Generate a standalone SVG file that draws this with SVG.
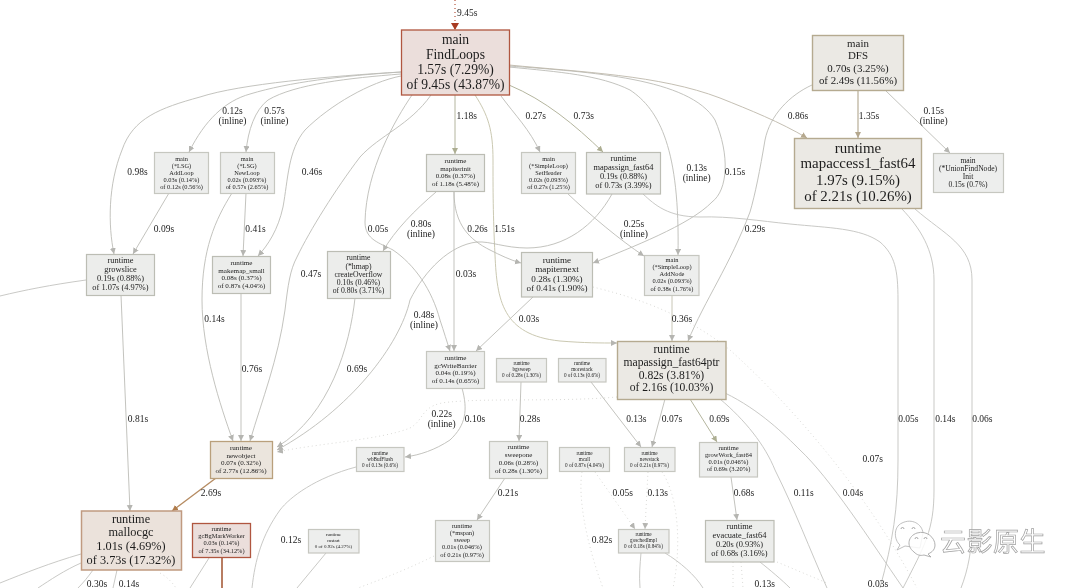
<svg xmlns="http://www.w3.org/2000/svg" width="1080" height="588" viewBox="0 0 1080 588">
<style>
text{font-family:"Liberation Serif","Times New Roman",serif;fill:#1c1c1c;text-anchor:middle}
.b{fill:#edeeed;stroke:#c6c7c0;stroke-width:1.2}
.g{fill:#ecedeb;stroke:#bcbdb4;stroke-width:1.2}
.w{fill:#ebe9e4;stroke:#b5aa90;stroke-width:1.4}
.o{fill:#ebe5dd;stroke:#b9a07c;stroke-width:1.3}
.r{fill:#ebe2db;stroke:#c09a80;stroke-width:1.5}
.m{fill:#ebdedb;stroke:#b0563f;stroke-width:1.3}
#connectors path{fill:none;stroke:#c3c3bf;stroke-width:.9}
#connectors .d{stroke:#d6d6d2;stroke-dasharray:1 3}
#edge-labels text{font-size:9.5px}
#connectors .n{stroke:#bcbcb7;marker-end:url(#ag)}
#connectors .t{stroke:#b7ad97;stroke-width:1.2;marker-end:url(#at)}
#connectors .u{stroke:#bdb8aa;marker-end:url(#at)}
#connectors .v{stroke:#b4b59e;stroke-width:1;marker-end:url(#av)}
#connectors .br{stroke:#b58a60;stroke-width:1.3;marker-end:url(#ab)}
#connectors .ad{marker-end:url(#ag)}
</style>
<defs>
<filter id="soft" filterUnits="userSpaceOnUse" x="0" y="0" width="1080" height="588"><feGaussianBlur stdDeviation="0.3"/></filter>
<marker id="ag" markerUnits="userSpaceOnUse" markerWidth="7" markerHeight="7" refX="6" refY="3" orient="auto"><path d="M0,0L6,3L0,6z" fill="#b5b5b1"/></marker>
<marker id="at" markerUnits="userSpaceOnUse" markerWidth="7" markerHeight="7" refX="6" refY="3" orient="auto"><path d="M0,0L6,3L0,6z" fill="#b5a88e"/></marker>
<marker id="av" markerUnits="userSpaceOnUse" markerWidth="7" markerHeight="7" refX="6" refY="3" orient="auto"><path d="M0,0L6,3L0,6z" fill="#adae92"/></marker>
<marker id="ab" markerUnits="userSpaceOnUse" markerWidth="7" markerHeight="7" refX="6" refY="3" orient="auto"><path d="M0,0L6,3L0,6z" fill="#b07c4c"/></marker>
<marker id="ar" markerUnits="userSpaceOnUse" markerWidth="8" markerHeight="9" refX="7" refY="4" orient="auto"><path d="M0,0L7,4L0,8z" fill="#a83a20"/></marker>
</defs>
<rect width="1080" height="588" fill="#fff"/>
<g filter="url(#soft)">
<g id="connectors">
<path d="M455,0V30" style="stroke:#b5533c;stroke-width:1.2;stroke-dasharray:1 3;marker-end:url(#ar)"/>
<path class="n" d="M401,72C330,76 240,84 200,97C160,108 133,118 122,150C108,185 108,225 114,254"/>
<path class="n" d="M401,72C340,76 290,82 250,94C225,101 205,120 189,152"/>
<path class="n" d="M401,74C350,78 295,84 268,100C255,110 248,130 246,152"/>
<path class="n" d="M401,76C370,82 330,105 305,130C288,150 288,180 283,207C278,230 268,245 258,256"/>
<path class="n" d="M431,95C410,125 380,135 360,157C335,190 310,230 297,257C290,270 288,285 285,310C278,360 262,400 250,441"/>
<path class="n" d="M412,95C395,120 366,170 365,222C365,240 380,243 393,250C415,265 432,290 440,320C444,332 447,342 450,351"/>
<path class="v" d="M455,95V154"/>
<path class="n" style="stroke:#c4c2a8" d="M475,95C488,115 493,130 493,160C493,190 493,215 495,255C497,300 502,335 560,341C585,343 600,343 617,343"/>
<path class="n" d="M501,96C515,115 530,130 540,152"/>
<path class="v" d="M509,85C545,100 575,125 603,152"/>
<path class="n" d="M509,67C560,72 600,75 630,90C660,110 680,150 678,255"/>
<path class="n" d="M509,66C590,72 690,78 715,120C730,155 728,190 712,202C690,225 630,248 593,263"/>
<path class="u" d="M509,65C580,72 660,75 720,98C750,110 780,122 807,138"/>
<path class="t" d="M858,90V138"/>
<path class="n" d="M885,90L950,153"/>
<path class="n" d="M812,85C790,95 770,115 765,140C760,170 755,195 750,212C730,265 705,300 688,341"/>
<path class="n" d="M567,193C590,215 620,240 644,256"/>
<path d="M643,194C655,205 668,217 700,217C730,216 760,221 790,224C830,228 860,228 880,242C895,255 898,270 898,300V460C898,510 893,540 880,588"/>
<path d="M902,209C920,228 934,250 934,280V490C934,530 925,545 903,588"/>
<path d="M915,209C945,235 972,245 972,280V525C972,550 968,570 961,588"/>
<path class="n" d="M169,193L133,254"/>
<path class="n" d="M246,193L243,256"/>
<path class="n" d="M232,193C215,220 202,250 202,300C202,350 220,405 233,441"/>
<path class="n" d="M241,293V441"/>
<path class="n" d="M121,295L130,511"/>
<path d="M86,280C50,285 25,290 0,296"/>
<path class="br" d="M216,478L172,511"/>
<path d="M81,554C50,563 25,573 0,583"/>
<path d="M81,563C65,570 50,580 38,588"/>
<path d="M93,570C88,577 83,583 78,588"/>
<path d="M117,570L113,588"/>
<path class="d" d="M160,573C167,577 172,582 176,588"/>
<path style="stroke:#a0522f;stroke-width:1.5" d="M222,558V588"/>
<path d="M209,558L190,588"/>
<path d="M356,467C315,478 290,497 280,510C262,535 255,560 252,588"/>
<path d="M326,553L297,588"/>
<path class="n" d="M462,388C468,410 466,425 450,440C435,450 420,455 405,457"/>
<path class="n" d="M436,192C415,210 395,230 383,251"/>
<path class="n" d="M454,192C454,225 470,240 490,250C500,255 510,260 521,263"/>
<path class="n" d="M454,192V351"/>
<path class="n" d="M533,297L476,351"/>
<path class="n" style="stroke:#c2c0ae" d="M672,295V341"/>
<path class="n" d="M612,194C595,225 565,248 527,248C505,248 490,241 477,242C450,245 425,270 410,300C400,345 350,410 277,450"/>
<path class="n" d="M355,298C350,345 330,415 277,447"/>
<path class="d" d="M593,287C625,295 680,310 730,350C780,395 860,480 917,588"/>
<path class="d ad" d="M617,397C560,402 490,398 450,402C420,404 425,420 410,428C380,440 320,443 277,452"/>
<path class="n" d="M521,382L519,441"/>
<path class="n" d="M591,382L641,447"/>
<path class="n" d="M665,399L652,447"/>
<path class="v" d="M690,399L717,442"/>
<path class="n" d="M731,477L737,520"/>
<path d="M720,399C745,420 765,445 775,470C795,510 810,550 827,588"/>
<path d="M725,393C760,410 785,435 800,450C830,478 870,540 903,588"/>
<path class="n" d="M505,478L477,520"/>
<path class="d" d="M434,556C410,568 385,578 358,588"/>
<path class="d ad" d="M595,472L635,529"/>
<path class="d" d="M582,472C578,495 585,540 603,588"/>
<path class="d ad" d="M648,472C647,490 646,510 645,529"/>
<path class="d" d="M662,472C678,495 682,545 673,588"/>
<path d="M641,553C640,565 639,575 640,588"/>
<path d="M665,553C680,562 695,575 703,588"/>
<path d="M760,562C770,570 782,580 790,588"/>
<path class="d" d="M733,562V588"/>
<path class="d" d="M741,562L743,588"/>
<path class="d" d="M777,562L827,583"/>
</g>
<g id="edge-labels">
<text x="457" y="16" style="text-anchor:start">9.45s</text>
<text x="137.500" y="175">0.98s</text>
<text x="232.500" y="114">0.12s</text><text x="232.500" y="124">(inline)</text>
<text x="274.500" y="114">0.57s</text><text x="274.500" y="124">(inline)</text>
<text x="312" y="175">0.46s</text>
<text x="164" y="232">0.09s</text>
<text x="255.500" y="232">0.41s</text>
<text x="311" y="277">0.47s</text>
<text x="214.500" y="322">0.14s</text>
<text x="252" y="372">0.76s</text>
<text x="357" y="372">0.69s</text>
<text x="138" y="422">0.81s</text>
<text x="211" y="496">2.69s</text>
<text x="291" y="543">0.12s</text>
<text x="97" y="586.500">0.30s</text>
<text x="129" y="586.500">0.14s</text>
<text x="466.700" y="119">1.18s</text>
<text x="535.700" y="119">0.27s</text>
<text x="583.700" y="119">0.73s</text>
<text x="696.700" y="171">0.13s</text><text x="696.700" y="181">(inline)</text>
<text x="378" y="232">0.05s</text>
<text x="421" y="227">0.80s</text><text x="421" y="237">(inline)</text>
<text x="477.500" y="232">0.26s</text>
<text x="504.500" y="232">1.51s</text>
<text x="634" y="227">0.25s</text><text x="634" y="237">(inline)</text>
<text x="466" y="277">0.03s</text>
<text x="798" y="119">0.86s</text>
<text x="869" y="119">1.35s</text>
<text x="933.700" y="114">0.15s</text><text x="933.700" y="124">(inline)</text>
<text x="735" y="175">0.15s</text>
<text x="755" y="232">0.29s</text>
<text x="424" y="318">0.48s</text><text x="424" y="328">(inline)</text>
<text x="529" y="322">0.03s</text>
<text x="682" y="322">0.36s</text>
<text x="441.700" y="417">0.22s</text><text x="441.700" y="427">(inline)</text>
<text x="475" y="422">0.10s</text>
<text x="530" y="422">0.28s</text>
<text x="508" y="496">0.21s</text>
<text x="636.300" y="422">0.13s</text>
<text x="672" y="422">0.07s</text>
<text x="719.300" y="422">0.69s</text>
<text x="622.700" y="496">0.05s</text>
<text x="657.700" y="496">0.13s</text>
<text x="744" y="496">0.68s</text>
<text x="803.700" y="496">0.11s</text>
<text x="602" y="543">0.82s</text>
<text x="764.700" y="586.500">0.13s</text>
<text x="908.300" y="422">0.05s</text>
<text x="945.300" y="422">0.14s</text>
<text x="982.300" y="422">0.06s</text>
<text x="872.700" y="462">0.07s</text>
<text x="853" y="496">0.04s</text>
<text x="878" y="586.500">0.03s</text>
</g>
<g id="findloops"><rect class="m" x="401.500" y="30" width="108" height="65"/><text font-size="13.6"><tspan x="455.500" y="44.300">main</tspan><tspan x="455.500" y="59.300">FindLoops</tspan><tspan x="455.500" y="74">1.57s (7.29%)</tspan><tspan x="455.500" y="88.700">of 9.45s (43.87%)</tspan></text></g>
<g id="dfs"><rect class="w" x="812.500" y="35.500" width="91" height="55"/><text font-size="10.900"><tspan x="858" y="47">main</tspan><tspan x="858" y="59.300">DFS</tspan><tspan x="858" y="71.700">0.70s (3.25%)</tspan><tspan x="858" y="84">of 2.49s (11.56%)</tspan></text></g>
<g id="mapaccess1"><rect class="w" x="794.500" y="138.500" width="127" height="70"/><text font-size="14.900"><tspan x="858" y="152.700">runtime</tspan><tspan x="858" y="168.300">mapaccess1_fast64</tspan><tspan x="858" y="185.300">1.97s (9.15%)</tspan><tspan x="858" y="201">of 2.21s (10.26%)</tspan></text></g>
<g id="unionfind-init"><rect class="b" x="933.500" y="153.500" width="70" height="39"/><text font-size="7.600"><tspan x="968" y="163">main</tspan><tspan x="968" y="171">(*UnionFindNode)</tspan><tspan x="968" y="179">Init</tspan><tspan x="968" y="187">0.15s (0.7%)</tspan></text></g>
<g id="addloop"><rect class="b" x="154.500" y="152.500" width="54" height="41"/><text font-size="6.350"><tspan x="181.500" y="160.700">main</tspan><tspan x="181.500" y="167.700">(*LSG)</tspan><tspan x="181.500" y="174.700">AddLoop</tspan><tspan x="181.500" y="181.700">0.03s (0.14%)</tspan><tspan x="181.500" y="189">of 0.12s (0.56%)</tspan></text></g>
<g id="newloop"><rect class="b" x="220.500" y="152.500" width="54" height="41"/><text font-size="6.350"><tspan x="247" y="160.700">main</tspan><tspan x="247" y="167.700">(*LSG)</tspan><tspan x="247" y="174.700">NewLoop</tspan><tspan x="247" y="181.700">0.02s (0.093%)</tspan><tspan x="247" y="189">of 0.57s (2.65%)</tspan></text></g>
<g id="mapiterinit"><rect class="g" x="426.500" y="154.500" width="58" height="37"/><text font-size="7"><tspan x="455.500" y="163">runtime</tspan><tspan x="455.500" y="171">mapiterinit</tspan><tspan x="455.500" y="178.300">0.08s (0.37%)</tspan><tspan x="455.500" y="186.300">of 1.18s (5.48%)</tspan></text></g>
<g id="setheader"><rect class="b" x="521.500" y="152.500" width="54" height="41"/><text font-size="6.350"><tspan x="548.500" y="160.700">main</tspan><tspan x="548.500" y="167.700">(*SimpleLoop)</tspan><tspan x="548.500" y="174.700">SetHeader</tspan><tspan x="548.500" y="181.700">0.02s (0.093%)</tspan><tspan x="548.500" y="189">of 0.27s (1.25%)</tspan></text></g>
<g id="mapassign-fast64"><rect class="g" x="586.500" y="152.500" width="74" height="41.500"/><text font-size="8.400"><tspan x="623.500" y="161.300">runtime</tspan><tspan x="623.500" y="170.300">mapassign_fast64</tspan><tspan x="623.500" y="179">0.19s (0.88%)</tspan><tspan x="623.500" y="188.300">of 0.73s (3.39%)</tspan></text></g>
<g id="growslice"><rect class="g" x="86.500" y="254.500" width="68" height="41"/><text font-size="8.400"><tspan x="120.500" y="263.300">runtime</tspan><tspan x="120.500" y="272.300">growslice</tspan><tspan x="120.500" y="281">0.19s (0.88%)</tspan><tspan x="120.500" y="290.300">of 1.07s (4.97%)</tspan></text></g>
<g id="makemap-small"><rect class="g" x="212.500" y="256.500" width="58" height="37"/><text font-size="7.100"><tspan x="241.500" y="264.700">runtime</tspan><tspan x="241.500" y="272.700">makemap_small</tspan><tspan x="241.500" y="280.300">0.08s (0.37%)</tspan><tspan x="241.500" y="288">of 0.87s (4.04%)</tspan></text></g>
<g id="createoverflow"><rect class="g" x="327.500" y="251.500" width="63" height="47"/><text font-size="7.700"><tspan x="358.500" y="260">runtime</tspan><tspan x="358.500" y="268.700">(*hmap)</tspan><tspan x="358.500" y="276.700">createOverflow</tspan><tspan x="358.500" y="285.300">0.10s (0.46%)</tspan><tspan x="358.500" y="293.300">of 0.80s (3.71%)</tspan></text></g>
<g id="mapiternext"><rect class="g" x="521.500" y="252.500" width="71" height="44.500"/><text font-size="9.100"><tspan x="557" y="262.700">runtime</tspan><tspan x="557" y="272.300">mapiternext</tspan><tspan x="557" y="281.700">0.28s (1.30%)</tspan><tspan x="557" y="291.300">of 0.41s (1.90%)</tspan></text></g>
<g id="addnode"><rect class="b" x="644.500" y="255.500" width="54.500" height="40"/><text font-size="6.400"><tspan x="672" y="262.300">main</tspan><tspan x="672" y="269.300">(*SimpleLoop)</tspan><tspan x="672" y="276.300">AddNode</tspan><tspan x="672" y="283.300">0.02s (0.093%)</tspan><tspan x="672" y="290.700">of 0.38s (1.76%)</tspan></text></g>
<g id="gcwritebarrier"><rect class="b" x="426.500" y="351.500" width="58" height="37"/><text font-size="7.100"><tspan x="455.500" y="360">runtime</tspan><tspan x="455.500" y="368">gcWriteBarrier</tspan><tspan x="455.500" y="375.300">0.04s (0.19%)</tspan><tspan x="455.500" y="383.300">of 0.14s (0.65%)</tspan></text></g>
<g id="bgsweep"><rect class="b" x="496.500" y="358.500" width="50" height="23.500"/><text font-size="5.200"><tspan x="521.500" y="365.300">runtime</tspan><tspan x="521.500" y="370.700">bgsweep</tspan><tspan x="521.500" y="376.700">0 of 0.28s (1.30%)</tspan></text></g>
<g id="morestack"><rect class="b" x="558.500" y="358.500" width="47.500" height="23.500"/><text font-size="5.200"><tspan x="582" y="365.300">runtime</tspan><tspan x="582" y="370.700">morestack</tspan><tspan x="582" y="376.700">0 of 0.13s (0.6%)</tspan></text></g>
<g id="mapassign-fast64ptr"><rect class="w" x="617.500" y="341.500" width="108.500" height="58"/><text font-size="11.600"><tspan x="671.500" y="353.300">runtime</tspan><tspan x="671.500" y="366">mapassign_fast64ptr</tspan><tspan x="671.500" y="378.700">0.82s (3.81%)</tspan><tspan x="671.500" y="391.300">of 2.16s (10.03%)</tspan></text></g>
<g id="newobject"><rect class="o" x="210.500" y="441.500" width="62" height="37"/><text font-size="7.100"><tspan x="241" y="450">runtime</tspan><tspan x="241" y="457.700">newobject</tspan><tspan x="241" y="465">0.07s (0.32%)</tspan><tspan x="241" y="473">of 2.77s (12.86%)</tspan></text></g>
<g id="wbbufflush"><rect class="b" x="356.500" y="447.500" width="47.500" height="24"/><text font-size="5.200"><tspan x="380" y="455">runtime</tspan><tspan x="380" y="460.700">wbBufFlush</tspan><tspan x="380" y="466.700">0 of 0.13s (0.6%)</tspan></text></g>
<g id="sweepone"><rect class="b" x="489.500" y="441.500" width="58" height="37"/><text font-size="7"><tspan x="518.500" y="449.300">runtime</tspan><tspan x="518.500" y="457.300">sweepone</tspan><tspan x="518.500" y="465">0.06s (0.28%)</tspan><tspan x="518.500" y="472.700">of 0.28s (1.30%)</tspan></text></g>
<g id="mcall"><rect class="b" x="559.500" y="447.500" width="50" height="24"/><text font-size="5.200"><tspan x="584.500" y="455">runtime</tspan><tspan x="584.500" y="460.700">mcall</tspan><tspan x="584.500" y="466.700">0 of 0.87s (4.04%)</tspan></text></g>
<g id="newstack"><rect class="b" x="624.500" y="447.500" width="50.500" height="24"/><text font-size="5.200"><tspan x="649.500" y="455">runtime</tspan><tspan x="649.500" y="460.700">newstack</tspan><tspan x="649.500" y="466.700">0 of 0.21s (0.97%)</tspan></text></g>
<g id="growwork"><rect class="b" x="699.500" y="442.500" width="58" height="34.500"/><text font-size="6.500"><tspan x="728.500" y="450">runtime</tspan><tspan x="728.500" y="457.300">growWork_fast64</tspan><tspan x="728.500" y="464.300">0.01s (0.046%)</tspan><tspan x="728.500" y="471.300">of 0.69s (3.20%)</tspan></text></g>
<g id="mspan-sweep"><rect class="b" x="435.500" y="520.500" width="54" height="41"/><text font-size="6.500"><tspan x="462" y="528.300">runtime</tspan><tspan x="462" y="535.300">(*mspan)</tspan><tspan x="462" y="542.300">sweep</tspan><tspan x="462" y="549.300">0.01s (0.046%)</tspan><tspan x="462" y="556.700">of 0.21s (0.97%)</tspan></text></g>
<g id="goschedimpl"><rect class="b" x="618.500" y="529.500" width="50.500" height="23.500"/><text font-size="5.200"><tspan x="643.500" y="536">runtime</tspan><tspan x="643.500" y="541.700">goschedImpl</tspan><tspan x="643.500" y="547.700">0 of 0.18s (0.84%)</tspan></text></g>
<g id="evacuate"><rect class="g" x="705.500" y="520.500" width="68.500" height="41.500"/><text font-size="8.400"><tspan x="739.500" y="529.300">runtime</tspan><tspan x="739.500" y="538.300">evacuate_fast64</tspan><tspan x="739.500" y="547">0.20s (0.93%)</tspan><tspan x="739.500" y="556">of 0.68s (3.16%)</tspan></text></g>
<g id="mallocgc"><rect class="r" x="81.500" y="511" width="100" height="59"/><text font-size="12.300"><tspan x="131" y="522.700">runtime</tspan><tspan x="131" y="536">mallocgc</tspan><tspan x="131" y="550.300">1.01s (4.69%)</tspan><tspan x="131" y="564">of 3.73s (17.32%)</tspan></text></g>
<g id="gcbgmarkworker"><rect class="m" x="192.500" y="523.500" width="58" height="34"/><text font-size="6.400"><tspan x="221.500" y="531.300">runtime</tspan><tspan x="221.500" y="538.300">gcBgMarkWorker</tspan><tspan x="221.500" y="545.300">0.03s (0.14%)</tspan><tspan x="221.500" y="553">of 7.35s (34.12%)</tspan></text></g>
<g id="mstart"><rect class="b" x="308.500" y="529.500" width="50.500" height="23.500"/><text font-size="5"><tspan x="333.500" y="536">runtime</tspan><tspan x="333.500" y="541.700">mstart</tspan><tspan x="333.500" y="547.700">0 of 0.92s (4.27%)</tspan></text></g>
<g id="watermark">
<path d="M900,545C894,540 893,527 902,523C912,518 922,524 923,533L920,548L905,546L897,550z" fill="#fff" fill-opacity=".75" stroke="#b0b0b0" stroke-width=".8"/>
<path d="M914,552C906,546 908,536 917,533C927,530 935,538 935,545C935,551 930,553 928,554L931,557L924,555C920,556 917,555 914,552z" fill="#fff" fill-opacity=".85" stroke="#a8a8a8" stroke-width=".9"/>
<path d="M901,529a1.500,1.500 0 0 1 3,0M912,529a1.500,1.500 0 0 1 3,0M915,539a1.500,1.500 0 0 1 3,0M924,539a1.500,1.500 0 0 1 3,0" fill="none" stroke="#888" stroke-width=".7"/>
<text x="993" y="551" font-size="26" style="font-family:'Noto Sans CJK SC','Noto Sans',sans-serif;fill:#fff;stroke:#a0a0a0;stroke-width:.7;letter-spacing:.5px">云影原生</text>
</g>
</g>
</svg>
